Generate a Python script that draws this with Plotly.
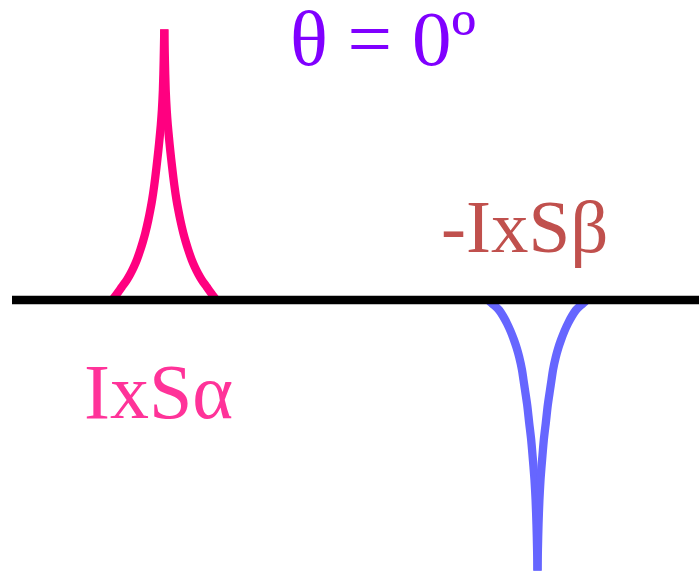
import plotly.graph_objects as go

# IxS alpha peak (positive): left flank then right flank, apex shared
pink_x = [112.3, 115.3, 118.3, 121.8, 126.8, 130.3, 133.8, 136.8, 140.3, 142.8, 145.3, 148.3,
          150.3, 152.1, 154.3, 156.5, 158.4, 159.7, 160.8, 161.9, 162.9, 163.7, 164.3,
          164.9, 165.7, 166.7, 167.8, 168.9, 170.2, 172.1, 174.3, 176.5, 178.3, 180.3, 183.3,
          185.8, 188.3, 191.8, 194.8, 198.3, 201.8, 206.8, 210.3, 213.3, 216.3]
pink_y = [0, 4, 8, 13, 20, 26, 33, 40, 50, 58, 67, 80,
          90, 100, 115, 133, 150, 163, 175, 190, 210, 240, 270.7,
          240, 210, 190, 175, 163, 150, 133, 115, 100, 90, 80, 67,
          58, 50, 40, 33, 26, 20, 13, 8, 4, 0]

# -IxS beta peak (negative)
blue_x = [488.5, 491.5, 495, 499, 503, 506.8, 510.5, 514, 516.7, 519.2, 522, 523.5,
          525, 527.2, 529.2, 531.2, 532.5, 533.5, 534.5, 535.6, 536.5, 537.1, 537.5,
          537.9, 538.5, 539.4, 540.5, 541.5, 542.5, 543.8, 545.8, 547.8, 550, 551.5, 553,
          555.8, 558.3, 561, 564.5, 568.2, 572, 576, 580, 583.5, 586.5]
blue_y = [0, -3, -6, -10, -16, -23, -31, -40, -48, -57, -70, -80,
          -90, -105, -123, -140, -155, -167, -180, -200, -225, -250, -270.7,
          -250, -225, -200, -180, -167, -155, -140, -123, -105, -90, -80, -70,
          -57, -48, -40, -31, -23, -16, -10, -6, -3, 0]

baseline_x = [12, 720]
baseline_y = [0, 0]

labels = ["θ = 0º", "-IxSβ", "IxSα"]

APEX = 22  # index of apex in the peak arrays

fig = go.Figure()
for xs, ys, col in [(pink_x, pink_y, "#FF0080"), (blue_x, blue_y, "#6666FF")]:
    fig.add_trace(go.Scatter(x=xs[:APEX + 1], y=ys[:APEX + 1], mode="lines",
                             line=dict(color=col, width=8.3, shape="spline", smoothing=0.8),
                             hoverinfo="skip"))
    fig.add_trace(go.Scatter(x=xs[APEX:], y=ys[APEX:], mode="lines",
                             line=dict(color=col, width=8.3, shape="spline", smoothing=0.8),
                             hoverinfo="skip"))
fig.add_trace(go.Scatter(x=baseline_x, y=baseline_y, mode="lines",
                         line=dict(color="#000000", width=8.5), hoverinfo="skip"))

font = "Liberation Serif, Times New Roman, serif"
fig.add_annotation(x=288, y=262, text=labels[0], showarrow=False, xanchor="left", yanchor="middle",
                   font=dict(family=font, size=79, color="#8000FF"))
fig.add_annotation(x=439, y=74, text=labels[1], showarrow=False, xanchor="left", yanchor="middle",
                   font=dict(family=font, size=75, color="#C0504D"))
fig.add_annotation(x=82, y=-91, text=labels[2], showarrow=False, xanchor="left", yanchor="middle",
                   font=dict(family=font, size=78, color="#FF3399"))

fig.update_layout(
    width=699, height=572,
    margin=dict(l=0, r=0, t=0, b=0),
    paper_bgcolor="white", plot_bgcolor="white",
    showlegend=False,
    xaxis=dict(range=[0, 699], visible=False, showgrid=False, zeroline=False, fixedrange=True),
    yaxis=dict(range=[-272, 300], visible=False, showgrid=False, zeroline=False, fixedrange=True),
)

fig.write_html(
    "out.html",
    config={"displayModeBar": False, "staticPlot": True},
    post_script="document.body.style.margin='0';document.body.style.overflow='hidden';",
)
